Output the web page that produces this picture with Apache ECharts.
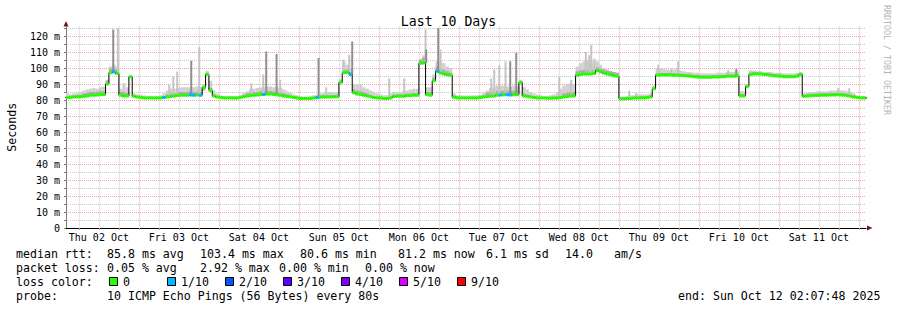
<!DOCTYPE html>
<html lang="en">
<head>
<meta charset="UTF-8">
<title>Last 10 Days</title>
<script src="https://cdn.jsdelivr.net/npm/echarts@6/dist/echarts.min.js"></script>
<style>
html, body { margin: 0; padding: 0; background: #fff; }
#main { width: 897px; height: 310px; }
</style>
</head>
<body>
<div id="main"></div>
<script>
// hours are counted from Thu 02 Oct 00:00, one value per hour
var dayLabels = ['Thu 02 Oct', 'Fri 03 Oct', 'Sat 04 Oct', 'Sun 05 Oct', 'Mon 06 Oct',
                 'Tue 07 Oct', 'Wed 08 Oct', 'Thu 09 Oct', 'Fri 10 Oct', 'Sat 11 Oct'];

var medianRtt = [
    81.5,81.5,81.5,81.6,81.8,82,82,82.3,82.5,83,83,83.2,83.5,83.5,90,97,97.5,96.5,83,82.5,82.5,94.5,82.3,81.8,
    81.5,81.3,81.2,81.2,81.2,81.2,81.3,81.5,81.8,82.2,82.5,82.8,83,83,83,83.2,83,83.2,83,88,96,86,82.5,81.8,
    81.5,81.3,81.2,81.2,81.2,81.2,81.5,82,82.5,82.8,83,83.2,83.5,83.5,83.7,83.8,83.5,83.2,83,82.5,82.2,81.8,81.5,81.2,
    81,80.9,80.9,81,81.2,81.5,81.7,81.8,81.8,81.8,82,82,91,97,97.3,96,84.5,83.7,83.5,83,82.5,82,81.5,81.2,
    81.2,81,81,81.2,82.2,82.3,82.3,82.3,82.8,82.8,83,83,103,103.2,83.3,83,92,98,96.8,96.3,95.8,95.5,81.7,81.3,
    81.2,81.2,81.2,81.2,81.3,81.3,81.5,81.8,82.2,82.3,82.5,83,83.2,83.3,83.3,83.2,83.3,83.3,91,82.5,82.2,81.8,81.5,81.3,
    81.2,81.2,81.1,81.1,81.2,81.3,81.5,81.8,82.2,82.5,82.5,95.5,96,96.2,96.3,96.3,96.5,98.5,97.5,96.8,96.3,95.8,95.2,94.8,
    80.8,80.8,81,81,81.2,81.2,81.3,81.3,81.5,81.8,87,95.5,95.6,95.6,95.6,95.6,95.5,95.5,95.3,95.2,95,94.8,94.6,94.4,
    94.2,94.2,94.2,94.2,94.3,94.3,94.5,94.6,94.8,94.8,94.8,95,82.5,82.5,88.5,96,96.2,96.3,96.2,96,95.8,95.5,95.2,95,
    94.8,94.6,94.5,94.5,94.5,94.8,96,82.3,82.5,82.7,82.8,82.8,83,83,83,83.2,83.2,83.3,83.2,83,82.7,82.3,81.8,81.5,
    81.3,81.3,81.3
];

// top of the darker smoke band
var smokeMid = [
    82.3,82.3,82.5,82.6,82.8,83,83.2,84,84.5,85,85,85.2,85.5,85.5,92,99.5,100,99,85,85,84.5,95,83,82.5,
    82.2,82,81.8,81.8,81.8,81.8,82,82.2,83.5,84,84.5,84.8,85,85,85,85.2,85,85.2,85,86,97,87.5,83.5,82.5,
    82.3,82,81.8,81.8,81.8,81.8,82.3,83.2,84.2,84.6,84.8,85,85.3,85.3,85.5,85.6,85.3,85,84.8,84.2,83.5,82.8,82.3,82,
    81.7,81.6,81.6,81.7,82,82.3,82.8,83,83,83,83.2,83.2,92,99,99,97.5,86.5,86,85.5,85,84,83,82.5,82,
    82.3,81.8,81.8,82.3,83.3,83.5,83.5,83.5,84,84,84.3,84.3,105,106.5,85,85,94,101,100,99,98,97,82.8,82.2,
    81.9,81.9,81.9,81.9,82,82,82.3,83,84.7,84.8,85,85.5,85.7,85.8,85.8,85.7,85.8,85.8,92,84,83.5,82.8,82.3,82,
    81.9,81.9,81.8,81.8,82,82.2,82.5,84,84.7,85,85,98,98.5,98.7,98.8,98.8,99,100.5,99.5,99,98.5,98,97.5,97,
    81.5,81.5,81.7,81.8,82,82,82.3,82.3,82.5,82.8,88,96.8,96.8,96.8,96.8,96.8,96.7,96.7,96.5,96.4,96.2,96,95.8,95.6,
    95.3,95.3,95.3,95.3,95.4,95.4,95.6,95.7,95.9,95.9,95.9,96.2,83.8,83.8,89.5,97.2,97.3,97.3,97.2,97,96.9,96.6,96.3,96.1,
    96,95.8,95.6,95.6,95.6,96,97,83.3,83.6,83.9,84,84,84.2,84.2,84.2,84.4,84.4,84.5,84.4,84.2,83.9,83.5,82.8,82.4,
    82.1,82.1,82.1
];

// top of the light smoke band
var smokeHigh = [
    83,83,84.5,83.5,84,84.5,85,86,86.5,87,87.5,87,88,88.5,92.7,101,102,101,87,90.5,88,95,84,83.5,
    83.5,83,82.5,82.5,82.5,82.5,83,84,86,87,87,87.5,88,88,88,88,88,88.5,88,90,98.3,92,86,84,
    83,82.5,82.5,82.5,82.5,82.5,83.5,84.5,85.5,86.5,87,87.5,88,88,88.5,88.5,88,88,87.5,86.5,85.5,84.5,83.5,83,
    82.5,82,82,82.5,83,83.5,84,84.5,84.5,85,85,85,93,104,102,100,90,90,89.5,88,87,86,85,84,
    83.5,83,83,84,85,85,85,85.5,86,86.5,87,87,106,108,88,88,96,104,104,103,101,100,84,83,
    83,82.8,82.8,82.8,83,83,83.5,84.5,86,87.5,88,89,89,89,88.5,88.5,89,88.5,92.7,88,86.5,85,84,83.5,
    83,82.5,82.5,83,83.5,85,87,89,90,90.5,90,101,103,104,105,104,104,104,102,100,99,98,97.5,97,
    82,82,82.5,83,83,83.5,83.5,83.5,83.5,84,89,100,100,99.5,99,98.5,99,99.5,98.5,98,97.5,97.5,97,97,
    96.5,96.5,96.5,96.5,96.5,97,97,97,97.5,97.5,97.5,98,85.5,85.5,90,98.5,98.5,98,98,97.5,97.5,97.5,97,97,
    97,96.5,96.5,96.5,96.5,97,97.5,84,84.5,85,85,85.5,85.5,85.5,85.5,86,86,86,86,86,85.5,85,84,83,
    82.5,82.5,82.5
];

// single tall pings: [hour, top, dark?]
var spikes = [
    [16.0,124,1],[17.4,125,0],[32.8,89.4,0],[34.0,94.6,0],[35.2,97.8,0],[39.4,104.5,1],[41.8,113,0],
    [57.4,90.4,0],[61.0,96,0],[61.9,110.3,1],[65.0,108.8,1],[66.1,92.7,0],
    [77.6,106.3,1],[79.9,88,0],[85.1,105.2,0],[86.8,108.3,0],[87.7,116.6,1],
    [98.8,93.4,0],[103.3,93.5,0],[109.7,124,0],[109.9,111.5,1],[113.5,125,1],[114.2,111.5,0],
    [129.4,93.5,0],[130.3,99,0],[131.8,101.7,0],[133.7,104,0],[135.1,104.2,1],[136.9,109.4,1],
    [149.8,94.6,0],[153.4,92.5,0],[157.8,110,0],[158.8,108,0],[159.4,114.5,0],[160.4,106,0],
    [170.8,85.8,0],[172.9,84.5,0],[179.5,102,0],[183.4,99.5,0],[185.5,104,0],
    [200.5,98.8,0],[202.9,99.4,1],[233.5,87.3,0],[236.8,87.3,0]
];

// hours where 1 of 10 pings was lost
var lossHours = [16, 31, 39, 40, 42, 61, 77, 87, 113, 132, 134, 135];

var lossLabels = ['0', '1/10', '2/10', '3/10', '4/10', '5/10', '9/10'];
var lossColors = ['#26ff00', '#00b8ff', '#0059ff', '#5e00ff', '#7e00ff', '#dd00ff', '#ff0000'];

var MONO = '"DejaVu Sans Mono", monospace';
var START = 2 + 7.8 / 60;   // Thu 02 Oct 02:07:48
var END = START + 240;      // Sun 12 Oct 02:07:48

var gridHours = [];
for (var h = 6; h <= 240; h += 6) gridHours.push(h);
var noonHours = [];
for (var d = 0; d < dayLabels.length; d++) noonHours.push(12 + d * 24);
var yGrid = [];
for (var y = 0; y <= 125; y += 5) yGrid.push(y);
var yLabels = [];
for (var y2 = 0; y2 <= 120; y2 += 10) yLabels.push(y2);

var smokeData = medianRtt.map(function (v, i) { return [i, v, smokeMid[i], smokeHigh[i]]; });
var spikeData = spikes.map(function (s) { return [s[0], medianRtt[Math.floor(s[0])], s[1], s[2]]; });
var medianData = medianRtt.map(function (v, i) { return [i, v, lossHours.indexOf(i) >= 0 ? 1 : 0]; });
var stepData = medianRtt.map(function (v, i) { return [i, v]; });
stepData.push([medianRtt.length, medianRtt[medianRtt.length - 1]]);

function renderSmoke(params, api) {
    var h = api.value(0);
    var base = api.coord([h, api.value(1)]);
    var mid = api.coord([h, api.value(2)]);
    var top = api.coord([h, api.value(3)]);
    var w = api.coord([h + 1, 0])[0] - base[0];
    return {
        type: 'group',
        children: [
            {type: 'rect', shape: {x: base[0], y: top[1], width: w, height: base[1] - top[1]}, style: {fill: '#d0d0d0'}},
            {type: 'rect', shape: {x: base[0], y: mid[1], width: w, height: base[1] - mid[1]}, style: {fill: '#ababab'}}
        ]
    };
}

function renderSpike(params, api) {
    var h = api.value(0);
    var base = api.coord([h, api.value(1)]);
    var top = api.coord([h, api.value(2)]);
    var w = api.size([0.6, 0])[0];
    return {
        type: 'rect',
        shape: {x: base[0], y: top[1], width: w, height: base[1] - top[1]},
        style: {fill: api.value(3) ? '#8e8e8e' : '#c4c4c4'}
    };
}

function renderMedian(params, api) {
    var h = api.value(0);
    var p0 = api.coord([h, api.value(1)]);
    var p1 = api.coord([h + 1, api.value(1)]);
    return {
        type: 'rect',
        shape: {x: p0[0], y: p0[1] - 1.5, width: p1[0] - p0[0], height: 3},
        style: {fill: lossColors[api.value(2)]}
    };
}

// legend text under the plot
var rows = [
    [254, [[16, 'median rtt:'], [107, '85.8 ms avg'], [200, '103.4 ms max'], [300, '80.6 ms min'],
           [398, '81.2 ms now'], [486, '6.1 ms sd'], [565, '14.0'], [614, 'am/s']]],
    [268, [[16, 'packet loss:'], [107, '0.05 % avg'], [200, '2.92 % max'], [279, '0.00 % min'], [365, '0.00 % now']]],
    [282, [[16, 'loss color:']]],
    [296, [[16, 'probe:'], [107, '10 ICMP Echo Pings (56 Bytes) every 80s'], [678, 'end: Sun Oct 12 02:07:48 2025']]]
];
var graphics = [];
rows.forEach(function (r) {
    r[1].forEach(function (c) {
        graphics.push({type: 'text', x: c[0], y: r[0], silent: true,
            style: {text: c[1], font: '11.6px ' + MONO, fill: '#000', textVerticalAlign: 'middle'}});
    });
});
lossLabels.forEach(function (lab, i) {
    var x = 109 + i * 58;
    graphics.push({type: 'rect', silent: true, shape: {x: x + 0.5, y: 277.5, width: 8, height: 8},
        style: {fill: lossColors[i], stroke: '#000', lineWidth: 1}});
    graphics.push({type: 'text', x: x + 14, y: 282, silent: true,
        style: {text: lab, font: '11.6px ' + MONO, fill: '#000', textVerticalAlign: 'middle'}});
});
graphics.push({type: 'text', x: 886.5, y: 5, rotation: -Math.PI / 2, silent: true,
    style: {text: 'RRDTOOL / TOBI OETIKER', font: '8.3px ' + MONO, fill: '#b4b4b4', textVerticalAlign: 'middle'}});
graphics.push({type: 'polygon', silent: true, shape: {points: [[63.5, 26.5], [68.5, 26.5], [66, 21]]}, style: {fill: '#7a1414'}});
graphics.push({type: 'polygon', silent: true, shape: {points: [[867, 225.5], [867, 230.5], [872.5, 228]]}, style: {fill: '#7a1414'}});

var chart = echarts.init(document.getElementById('main'), null, {renderer: 'svg'});
chart.setOption({
    animation: false,
    backgroundColor: '#fff',
    title: {
        text: 'Last 10 Days', left: 'center', top: 10,
        textStyle: {fontFamily: MONO, fontSize: 13.2, fontWeight: 'normal', color: '#000'}
    },
    grid: {left: 66, right: 31, top: 26.4, bottom: 82, containLabel: false, outerBoundsMode: 'none'},
    xAxis: {
        type: 'value', min: START, max: END,
        axisLine: {lineStyle: {color: '#000', width: 1}},
        axisTick: {show: true, length: 2, customValues: gridHours, lineStyle: {color: '#e09090'}},
        axisLabel: {
            customValues: noonHours, margin: 4, color: '#000', fontFamily: MONO, fontSize: 10,
            formatter: function (v) { return dayLabels[Math.round((v - 12) / 24)]; }
        },
        splitLine: {show: true, lineStyle: {color: ['#c8c8c8', '#c8c8c8', '#c8c8c8', '#f0a0a0'], type: [1, 1], width: 1}}
    },
    yAxis: {
        type: 'value', min: 0, max: 126,
        name: 'Seconds', nameLocation: 'middle', nameGap: 48,
        nameTextStyle: {fontFamily: MONO, fontSize: 11.6, color: '#000'},
        axisLine: {show: true, lineStyle: {color: '#777'}},
        axisTick: {show: true, length: 2, customValues: yGrid, lineStyle: {color: '#777'}},
        axisLabel: {
            customValues: yLabels, margin: 6, color: '#000', fontFamily: MONO, fontSize: 10,
            formatter: function (v) { return v === 0 ? '0' : v + ' m'; }
        },
        splitLine: {show: true, lineStyle: {color: ['#f0a0a0', '#c8c8c8'], type: [1, 1], width: 1}}
    },
    graphic: graphics,
    series: [
        {type: 'custom', name: 'smoke', data: smokeData, renderItem: renderSmoke, clip: true, silent: true, z: 1},
        {type: 'custom', name: 'spikes', data: spikeData, renderItem: renderSpike, clip: true, silent: true, z: 2},
        {type: 'line', name: 'median', data: stepData, step: 'end', showSymbol: false, clip: true, silent: true,
         lineStyle: {color: '#000', width: 1}, z: 3},
        {type: 'custom', name: 'loss', data: medianData, renderItem: renderMedian, clip: true, silent: true, z: 4}
    ]
});
</script>
</body>
</html>
